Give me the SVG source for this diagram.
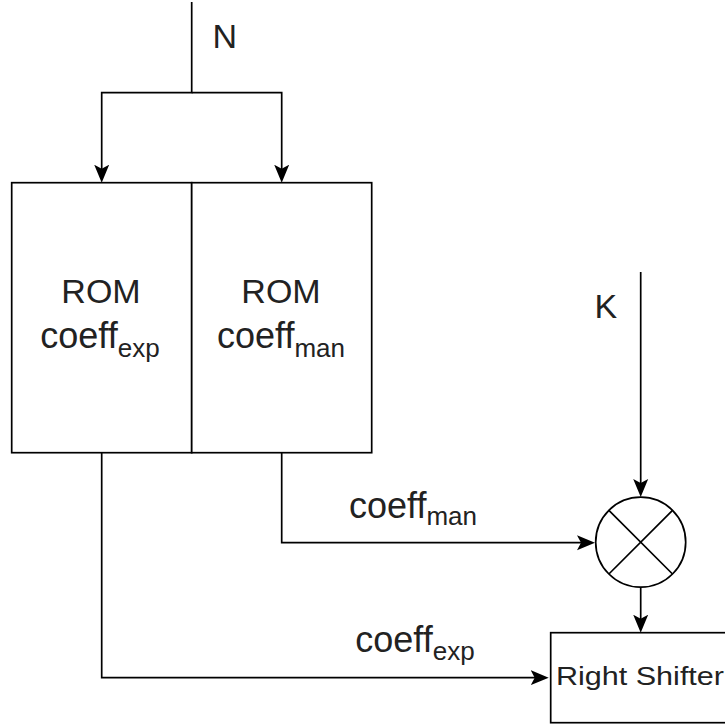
<svg xmlns="http://www.w3.org/2000/svg" width="725" height="726" viewBox="0 0 725 726">
<defs>
<style>
.ln{fill:none;stroke:#000;stroke-width:1.7}
.box{fill:#fff;stroke:#000;stroke-width:1.7}
.t{font-family:"Liberation Sans",Arial,sans-serif;fill:#222}
.rom{font-size:34px}
.co{font-size:36px}
.sub{font-size:26px}
</style>
<marker id="arr" viewBox="0 0 18 16" markerWidth="18" markerHeight="16" refX="13" refY="8" orient="auto" markerUnits="userSpaceOnUse">
<path d="M0,0.5 L18,8 L0,15.5 L4,8 Z" fill="#000"/>
</marker>
</defs>
<rect width="725" height="726" fill="#fff"/>

<g id="connectors">
<path class="ln" d="M191.7,2 V92.7 H101.7 V177.7" marker-end="url(#arr)"/>
<path class="ln" d="M191.7,92.7 H281.7 V177.7" marker-end="url(#arr)"/>
<path class="ln" d="M640.7,272 V492" marker-end="url(#arr)"/>
<path class="ln" d="M640.7,587 V627.7" marker-end="url(#arr)"/>
<path class="ln" d="M281.7,452.7 V542.7 H590" marker-end="url(#arr)"/>
<path class="ln" d="M101.7,452.7 V677.7 H543.7" marker-end="url(#arr)"/>
</g>

<g id="rom-exp">
<rect class="box" x="11.7" y="182.7" width="180" height="270"/>
<text class="t" text-anchor="middle"><tspan class="rom" x="101" y="303">ROM</tspan></text>
<text class="t" x="100" y="348" text-anchor="middle"><tspan class="co">coeff</tspan><tspan class="sub" dy="9">exp</tspan></text>
</g>

<g id="rom-man">
<rect class="box" x="191.7" y="182.7" width="180" height="270"/>
<text class="t" text-anchor="middle"><tspan class="rom" x="281" y="303">ROM</tspan></text>
<text class="t" x="281" y="348" text-anchor="middle"><tspan class="co">coeff</tspan><tspan class="sub" dy="9">man</tspan></text>
</g>

<g id="multiplier">
<circle class="box" cx="640.7" cy="542.2" r="45"/>
<path class="ln" d="M608.9,510.4 L672.5,574 M672.5,510.4 L608.9,574"/>
</g>

<g id="right-shifter">
<rect class="box" x="550.7" y="632.7" width="180" height="90"/>
<text class="t" x="640" y="685" font-size="25" text-anchor="middle" textLength="168" lengthAdjust="spacingAndGlyphs">Right Shifter</text>
</g>

<g id="label-N"><text class="t rom" x="212.5" y="48">N</text></g>
<g id="label-K"><text class="t rom" x="594.5" y="318">K</text></g>
<g id="label-coeff-man"><text class="t" x="413" y="518" text-anchor="middle"><tspan class="co">coeff</tspan><tspan class="sub" dy="7">man</tspan></text></g>
<g id="label-coeff-exp"><text class="t" x="415" y="652" text-anchor="middle"><tspan class="co">coeff</tspan><tspan class="sub" dy="8">exp</tspan></text></g>
</svg>
